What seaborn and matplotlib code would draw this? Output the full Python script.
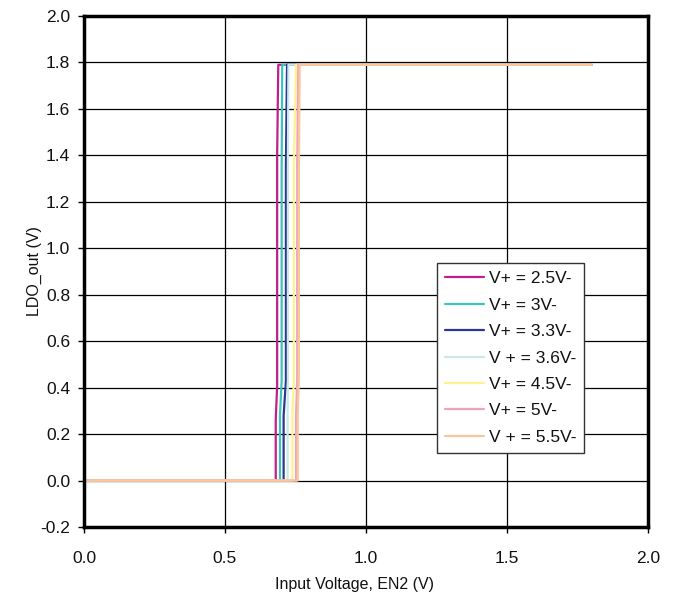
import pandas as pd
import seaborn as sns
import matplotlib
matplotlib.use("Agg")
import matplotlib.pyplot as plt

labels = ["V+ = 2.5V-", "V+ = 3V-", "V+ = 3.3V-", "V + = 3.6V-",
          "V+ = 4.5V-", "V+ = 5V-", "V + = 5.5V-"]
colors = ["#C0208E", "#3CC4BE", "#2B3891", "#CBE8E8", "#FFF38F", "#F2A2BF", "#F9C79C"]

# EN2 where each curve leaves 0, bends, and reaches the top
x_start = [0.680, 0.695, 0.708, 0.722, 0.739, 0.752, 0.758]
x_mid = [0.685, 0.701, 0.716, 0.723, 0.744, 0.756, 0.762]
x_top = [0.689, 0.703, 0.720, 0.725, 0.752, 0.760, 0.765]
y_low = [0.26, 0.28, 0.28, 0.28, 0.28, 0.28, 0.28]
y_high = [1.40, 1.35, 1.35, 1.35, 1.35, 1.35, 1.35]
v_out = 1.79
x_end = 1.8

rows = []
for i, lab in enumerate(labels):
    xs = [0.0, x_start[i], x_start[i], x_mid[i], x_mid[i], x_top[i], x_end]
    ys = [0.0, 0.0, y_low[i], y_low[i] + 0.15, y_high[i], v_out, v_out]
    for k, (x, y) in enumerate(zip(xs, ys)):
        rows.append({"serie": lab, "ordem": k, "EN2": x, "LDO": y})
df = pd.DataFrame(rows)

sns.set_style("white")
plt.rcParams['font.family'] = ['Liberation Sans', 'DejaVu Sans']

fig = plt.figure(figsize=(6.74, 5.95), dpi=100)
ax = fig.add_axes([0.1246, 0.1143, 0.8368, 0.8588])

ax.grid(True, color="black", linewidth=0.9)
ax.set_axisbelow(True)

sns.lineplot(data=df, x="EN2", y="LDO", hue="serie", palette=dict(zip(labels, colors)),
             hue_order=labels, sort=False, estimator=None, units="serie",
             linewidth=1.6, ax=ax, legend=False)

ax.set_xlim(0, 2.0)
ax.set_ylim(-0.2, 2.0)
ax.set_xticks([0, 0.5, 1.0, 1.5, 2.0])
ax.set_yticks([round(-0.2 + 0.2 * i, 1) for i in range(12)])
ax.xaxis.set_major_formatter(matplotlib.ticker.FormatStrFormatter('%.1f'))
ax.yaxis.set_major_formatter(matplotlib.ticker.FormatStrFormatter('%.1f'))
ax.tick_params(axis='both', labelsize=12.5, length=4, width=1, direction='out',
               bottom=True, left=True, colors='black', labelcolor='#111111')
ax.tick_params(axis='y', pad=6)
ax.tick_params(axis='x', pad=13)

for s in ax.spines.values():
    s.set_linewidth(2.5)
    s.set_color("black")

ax.set_xlabel("Input Voltage, EN2 (V)", fontsize=11.5, color='#111111')
ax.set_ylabel("LDO_out (V)", fontsize=11.5, color='#111111')
ax.xaxis.set_label_coords(0.479, -0.098)
ax.yaxis.set_label_coords(-0.075, 0.5)

handles = [plt.Line2D([], [], color=c, linewidth=1.6) for c in colors]
leg = ax.legend(handles, labels, loc="upper left", bbox_to_anchor=(0.626, 0.516),
                fontsize=12.5, frameon=True, fancybox=False, shadow=False,
                handlelength=2.25, handletextpad=0.3, labelspacing=0.65,
                borderpad=0.45, borderaxespad=0)
leg.get_frame().set_edgecolor("#333333")
leg.get_frame().set_linewidth(1.0)
leg.get_frame().set_alpha(1)
for t in leg.get_texts():
    t.set_color('#111111')

fig.savefig("out.png", dpi=100)
